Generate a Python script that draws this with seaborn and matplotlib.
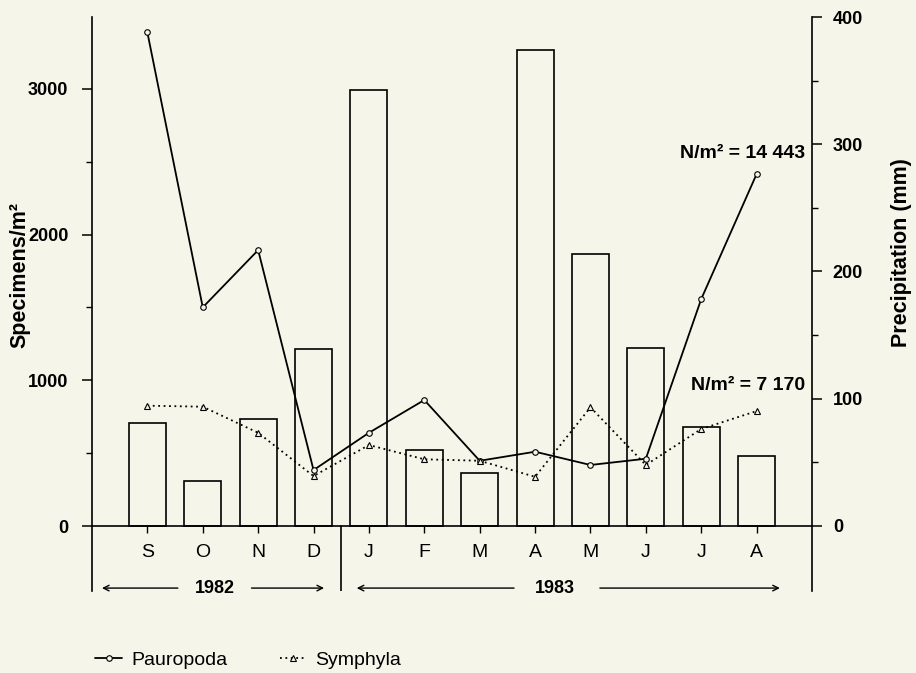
import numpy as np
import pandas as pd
import matplotlib
matplotlib.use('Agg')
import matplotlib.pyplot as plt
import seaborn as sns

# ---------------- data ----------------
months = ['Sep82', 'Oct82', 'Nov82', 'Dec82', 'Jan83', 'Feb83',
          'Mar83', 'Apr83', 'May83', 'Jun83', 'Jul83', 'Aug83']
month_labels = ['S', 'O', 'N', 'D', 'J', 'F', 'M', 'A', 'M', 'J', 'J', 'A']
precip_mm = [81, 35, 84, 139, 343, 60, 42, 374, 214, 140, 78, 55]
pauropoda = [3388, 1501, 1894, 384, 640, 865, 448, 510, 419, 462, 1558, 2416]
symphyla = [826, 819, 640, 343, 556, 458, 448, 338, 815, 419, 666, 789]
taxa = ['Pauropoda', 'Symphyla']
totals = ['N/m² = 14 443', 'N/m² = 7 170']
years = ['1982', '1983']

BG = '#f5f6e9'

sns.set_theme(style='ticks')
plt.rcParams['font.family'] = ['Liberation Sans', 'DejaVu Sans']
plt.rcParams['text.color'] = 'black'
plt.rcParams['axes.labelcolor'] = 'black'
plt.rcParams['xtick.color'] = 'black'
plt.rcParams['ytick.color'] = 'black'

fig = plt.figure(figsize=(9.16, 6.73), dpi=100, facecolor=BG)
ax = fig.add_axes([92 / 916, 1 - 591 / 673, 720 / 916, (591 - 17) / 673])
ax2 = ax.twinx()

# ---------------- bars (precipitation, right axis) ----------------
bar_df = pd.DataFrame({'month': months, 'precip': precip_mm})
sns.barplot(data=bar_df, x='month', y='precip', order=months, ax=ax2,
            width=0.67, fill=False, color='black', linewidth=1.2)

# ---------------- lines (specimens, left axis) ----------------
pos = np.arange(len(months))
line_df = pd.concat([
    pd.DataFrame({'pos': pos, 'count': pauropoda, 'taxon': taxa[0]}),
    pd.DataFrame({'pos': pos, 'count': symphyla, 'taxon': taxa[1]}),
])
sns.lineplot(data=line_df, x='pos', y='count', hue='taxon', style='taxon',
             palette={taxa[0]: 'black', taxa[1]: 'black'},
             markers={taxa[0]: 'o', taxa[1]: '^'},
             dashes={taxa[0]: '', taxa[1]: (1, 2)},
             ax=ax, linewidth=1.3, markersize=4, markerfacecolor=BG,
             markeredgecolor='black', markeredgewidth=0.8)

ax.set_zorder(ax2.get_zorder() + 1)
ax.patch.set_visible(False)
ax2.patch.set_visible(False)

# ---------------- limits ----------------
left_top, left_bot = 3494, -446
right_top, right_bot = 400, -51.1
ax.set_ylim(left_bot, left_top)
ax2.set_ylim(right_bot, right_top)
ax.set_xlim(-1, 12)
ax2.set_xlim(-1, 12)

# ---------------- spines ----------------
for s in ['top', 'right']:
    ax.spines[s].set_visible(False)
ax.spines['bottom'].set_position(('data', 0))
for s in ['top', 'left', 'bottom']:
    ax2.spines[s].set_visible(False)
for sp in [ax.spines['left'], ax.spines['bottom'], ax2.spines['right']]:
    sp.set_color('black')
    sp.set_linewidth(1.2)

# ---------------- ticks ----------------
ax.set_yticks([0, 1000, 2000, 3000])
ax.set_yticks([500, 1500, 2500], minor=True)
ax.set_yticklabels(['0', '1000', '2000', '3000'], fontweight='bold', fontsize=13)
ax.tick_params(axis='y', which='major', length=7, width=1.1, direction='out', colors='black', pad=10)
ax.tick_params(axis='y', which='minor', length=4, width=1.0, direction='out', colors='black')

ax2.set_yticks([0, 100, 200, 300, 400])
ax2.set_yticks([50, 150, 250, 350], minor=True)
ax2.set_yticklabels(['0', '100', '200', '300', '400'], fontweight='bold', fontsize=13)
ax2.tick_params(axis='y', which='major', length=7, width=1.1, direction='out', colors='black', pad=8)
ax2.tick_params(axis='y', which='minor', length=4, width=1.0, direction='out', colors='black')

ax.set_xticks(pos)
ax.set_xticklabels(month_labels, fontsize=14)
ax.tick_params(axis='x', length=5, width=1.0, direction='out', pad=8, colors='black')
ax.set_xlabel('')
ax2.set_xlabel('')

# ---------------- axis labels ----------------
ax.set_ylabel('Specimens/m²', fontweight='bold', fontsize=15.5, color='black')
ax.yaxis.set_label_coords(-0.085, 0.55)
ax2.set_ylabel('Precipitation (mm)', fontweight='bold', fontsize=15.5, color='black')
ax2.yaxis.set_label_coords(1.11, 0.59)

# ---------------- year divider and arrows ----------------
ax.axvline(3.5, ymin=0, ymax=(0 - left_bot) / (left_top - left_bot), color='black', lw=1.2)
arrow_y = -426
ap = dict(arrowstyle='->', color='black', lw=1.0, shrinkA=0, shrinkB=0, mutation_scale=10)
ax.text(1.22, arrow_y, years[0], ha='center', va='center', fontweight='bold', fontsize=13, color='black')
ax.annotate('', xy=(-0.82, arrow_y), xytext=(0.55, arrow_y), arrowprops=ap)
ax.annotate('', xy=(3.19, arrow_y), xytext=(1.88, arrow_y), arrowprops=ap)
ax.text(7.36, arrow_y, years[1], ha='center', va='center', fontweight='bold', fontsize=13, color='black')
ax.annotate('', xy=(3.78, arrow_y), xytext=(6.62, arrow_y), arrowprops=ap)
ax.annotate('', xy=(11.42, arrow_y), xytext=(8.17, arrow_y), arrowprops=ap)

# ---------------- totals ----------------
ax.text(11.87, 2560, totals[0], ha='right', va='center', fontweight='bold', fontsize=14, color='black')
ax.text(11.87, 968, totals[1], ha='right', va='center', fontweight='bold', fontsize=14, color='black')

# ---------------- legend ----------------
sns.move_legend(ax, 'center left', bbox_to_anchor=(95 / 916, 1 - 660 / 673),
                bbox_transform=fig.transFigure, ncol=2, frameon=False, title=None,
                handlelength=1.4, columnspacing=2.7, handletextpad=0.45, fontsize=14,
                borderaxespad=0, borderpad=0, labelcolor='black')

fig.savefig('out.png', dpi=100, facecolor=BG)
